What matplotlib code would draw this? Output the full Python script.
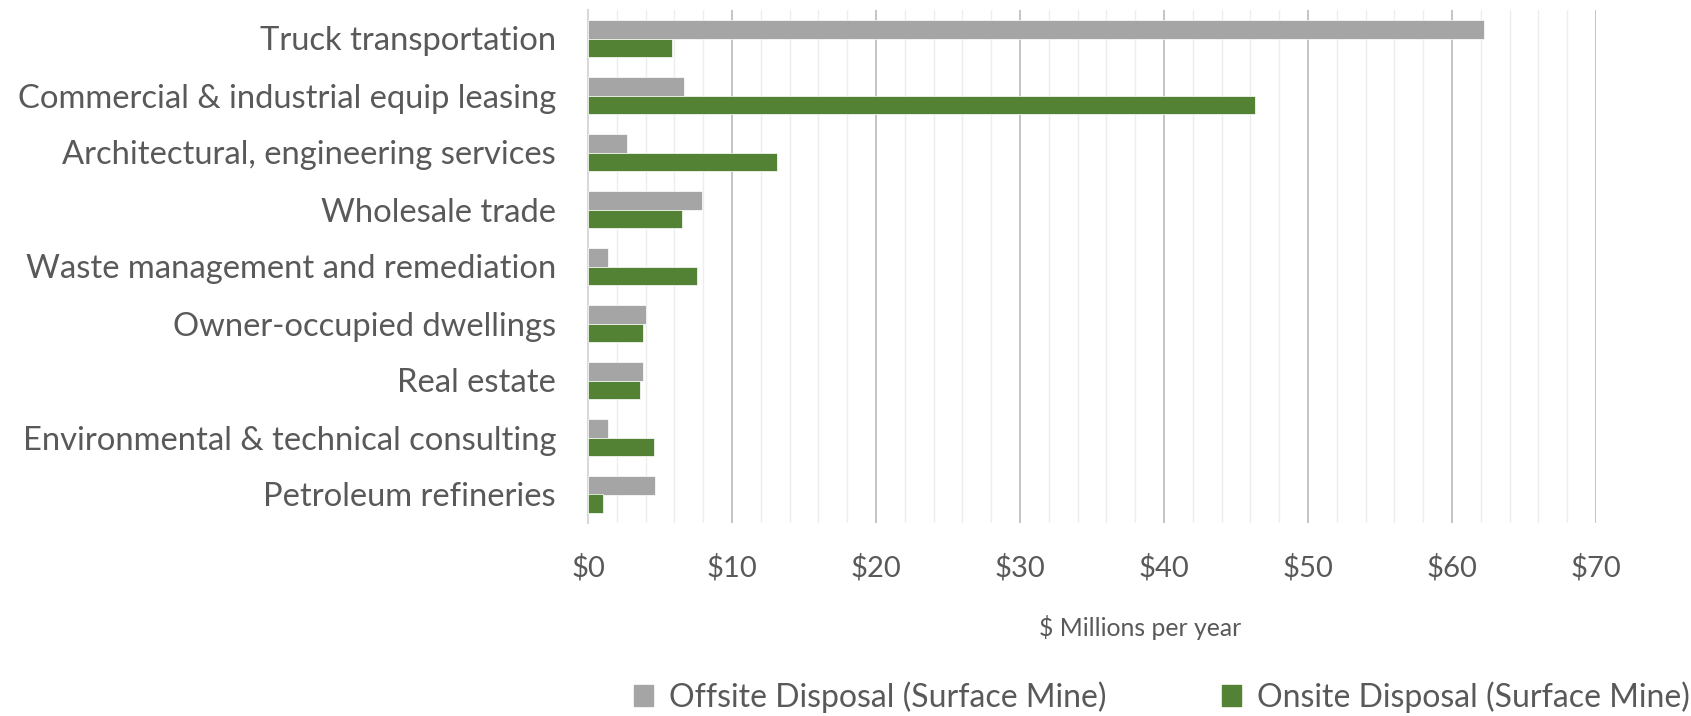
import numpy as np
import matplotlib.pyplot as plt
from matplotlib.ticker import MultipleLocator, FuncFormatter
from matplotlib.patches import Patch

# data ($ millions per year)
categories = ['Truck transportation', 'Commercial & industrial equip leasing',
              'Architectural, engineering services', 'Wholesale trade',
              'Waste management and remediation', 'Owner-occupied dwellings',
              'Real estate', 'Environmental & technical consulting',
              'Petroleum refineries']
offsite = [62.2, 6.7, 2.7, 7.9, 1.4, 4.0, 3.8, 1.4, 4.65]
onsite = [5.85, 46.3, 13.1, 6.55, 7.55, 3.8, 3.6, 4.55, 1.05]
series_names = ['Offsite Disposal (Surface Mine)', 'Onsite Disposal (Surface Mine)']

gray = '#A5A5A5'
green = '#548235'
txt = '#595959'

plt.rcParams['font.family'] = ['Lato', 'DejaVu Sans']

fig = plt.figure(figsize=(16.91, 7.16), dpi=100)
ax = fig.add_axes([588/1691, 1-523/716, (1596-588)/1691, (523-10)/716])

y = np.arange(len(categories))
h = 0.333
ax.barh(y - h/2, offsite, height=h, color=gray, edgecolor='white', linewidth=0.5, zorder=3)
ax.barh(y + h/2, onsite, height=h, color=green, edgecolor='white', linewidth=0.5, zorder=3)

ax.set_ylim(len(categories) - 0.5, -0.5)
ax.set_xlim(0, 70)
ax.set_yticks(y)
ax.set_yticklabels(categories)
ax.xaxis.set_major_locator(MultipleLocator(10))
ax.xaxis.set_minor_locator(MultipleLocator(2))
ax.xaxis.set_major_formatter(FuncFormatter(lambda v, p: '${:.0f}'.format(v)))
ax.grid(axis='x', which='major', color='#BFBFBF', linewidth=1.3, zorder=0)
ax.grid(axis='x', which='minor', color='#EDEDED', linewidth=1.0, zorder=0)

for s in ['top', 'right', 'bottom']:
    ax.spines[s].set_visible(False)
ax.spines['left'].set_color('#D9D9D9')
ax.spines['left'].set_linewidth(1.5)

ax.tick_params(axis='y', length=0, pad=23, labelsize=23.6, labelcolor=txt)
ax.tick_params(axis='x', which='both', length=0, pad=22, labelsize=21, labelcolor=txt)

# axis title sits right of the plot centre in the original
fig.text(1140/1691, 1-627/716, '$ Millions per year', fontsize=17.8, color=txt,
         ha='center', va='center')

handles = [Patch(color=gray), Patch(color=green)]
fig.legend(handles, series_names, loc='center', bbox_to_anchor=(1162/1691, 1-697/716),
           ncol=2, frameon=False, fontsize=23, labelcolor=txt,
           handlelength=0.6, handleheight=0.6, handletextpad=0.5, columnspacing=3.6)

fig.savefig('out.png', dpi=100)
